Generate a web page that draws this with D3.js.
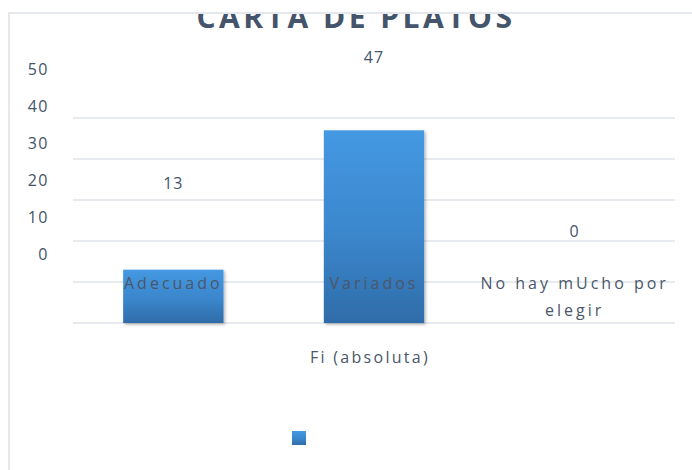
<!DOCTYPE html>
<html>
<head>
<meta charset="utf-8">
<script src="https://cdn.jsdelivr.net/npm/d3@7"></script>
<style>
  html, body { margin: 0; padding: 0; background: #ffffff; }
  svg { display: block; }
  text { font-family: "Open Sans", "Noto Sans", sans-serif; }
</style>
</head>
<body>
<svg id="chart" width="692" height="470"></svg>
<script>
// Chart data
const chartTitle = "CARTA DE PLATOS";
const seriesName = "Fi (absoluta)";
const categories = ["Adecuado", "Variados", "No hay mUcho por elegir"];
const values = [13, 47, 0];
const tickValues = [0, 10, 20, 30, 40, 50];

const W = 692, H = 470;
const textColor = "#44546a";
const gridColor = "#dfe3e9";

const svg = d3.select("#chart");

// Gradient fill and soft shadow for the bars
const defs = svg.append("defs");
const grad = defs.append("linearGradient")
  .attr("id", "barFill").attr("x1", 0).attr("y1", 0).attr("x2", 0).attr("y2", 1);
grad.append("stop").attr("offset", "0%").attr("stop-color", "#4499e2");
grad.append("stop").attr("offset", "55%").attr("stop-color", "#3b86cc");
grad.append("stop").attr("offset", "100%").attr("stop-color", "#2f6ca9");

const shadow = defs.append("filter").attr("id", "barShadow")
  .attr("x", "-10%").attr("y", "-10%").attr("width", "130%").attr("height", "130%");
shadow.append("feDropShadow").attr("dx", 1.5).attr("dy", 1.5)
  .attr("stdDeviation", 1.5).attr("flood-color", "#000").attr("flood-opacity", 0.3);

defs.append("clipPath").attr("id", "frameClip")
  .append("rect").attr("x", 9).attr("y", 14).attr("width", W).attr("height", H);

// Chart frame
svg.append("rect")
  .attr("x", 9).attr("y", 13).attr("width", W + 10).attr("height", H + 10)
  .attr("fill", "#ffffff").attr("stroke", gridColor).attr("stroke-width", 1.6);

// Scales
const x = d3.scaleBand()
  .domain(categories)
  .range([73, 675])
  .paddingInner(0.5)
  .paddingOuter(0.25);

const y = d3.scaleLinear().domain([0, 50]).range([323, 118]);

// Text layer scale (labels sit on a tighter vertical spacing)
const yLabel = d3.scaleLinear().domain([0, 50]).range([254, 69]);

// Gridlines
svg.append("g")
  .selectAll("line")
  .data(tickValues)
  .join("line")
  .attr("x1", 73).attr("x2", 675)
  .attr("y1", d => y(d)).attr("y2", d => y(d))
  .attr("stroke", gridColor).attr("stroke-width", 1.6);

// Tick labels
const axis = svg.append("g")
  .attr("transform", "translate(49,0)")
  .call(d3.axisLeft(yLabel).tickValues(tickValues).tickSize(0).tickPadding(0));
axis.select(".domain").remove();
axis.selectAll("text")
  .attr("fill", textColor)
  .attr("font-size", 16)
  .attr("letter-spacing", 1.5)
  .attr("dy", "0.35em")
  .style("font-family", "'Open Sans', sans-serif");

// Bars
svg.append("g")
  .selectAll("rect")
  .data(values)
  .join("rect")
  .attr("x", (d, i) => x(categories[i]))
  .attr("y", d => y(d))
  .attr("width", x.bandwidth())
  .attr("height", d => y(0) - y(d))
  .attr("fill", "url(#barFill)")
  .attr("filter", d => d > 0 ? "url(#barShadow)" : null);

// Value labels
svg.append("g")
  .selectAll("text")
  .data(values)
  .join("text")
  .attr("x", (d, i) => x(categories[i]) + x.bandwidth() / 2)
  .attr("y", d => yLabel(d) - 23)
  .attr("dy", "0.35em")
  .attr("text-anchor", "middle")
  .attr("fill", textColor)
  .attr("font-size", 16)
  .attr("letter-spacing", 1)
  .text(d => d);

// Category labels, wrapped to the band step
const catG = svg.append("g");
categories.forEach((c, i) => {
  const cx = x(c) + x.bandwidth() / 2;
  const t = catG.append("text")
    .attr("x", cx)
    .attr("y", yLabel(0) + 29)
    .attr("dy", "0.35em")
    .attr("text-anchor", "middle")
    .attr("fill", "#4a5769")
    .attr("font-size", 16)
    .attr("letter-spacing", 3);
  const words = c.split(" ");
  let line = [];
  let tspan = t.append("tspan").attr("x", cx);
  words.forEach(w => {
    line.push(w);
    tspan.text(line.join(" "));
    if (tspan.node().getComputedTextLength() > x.step() && line.length > 1) {
      line.pop();
      tspan.text(line.join(" "));
      line = [w];
      tspan = t.append("tspan").attr("x", cx).attr("dy", 27).text(w);
    }
  });
});

// Series name under the plot
svg.append("text")
  .attr("x", 370).attr("y", 357).attr("dy", "0.35em")
  .attr("text-anchor", "middle")
  .attr("fill", "#4a5769")
  .attr("font-size", 16)
  .attr("letter-spacing", 2.3)
  .text(seriesName);

// Legend marker
svg.append("rect")
  .attr("x", 292).attr("y", 431).attr("width", 14).attr("height", 14)
  .attr("fill", "url(#barFill)");

// Title (clipped by the frame's top edge)
svg.append("text")
  .attr("clip-path", "url(#frameClip)")
  .attr("x", 356).attr("y", 28)
  .attr("text-anchor", "middle")
  .attr("fill", textColor)
  .attr("font-size", 30)
  .attr("font-weight", "bold")
  .attr("letter-spacing", 3.5)
  .text(chartTitle);
</script>
</body>
</html>
